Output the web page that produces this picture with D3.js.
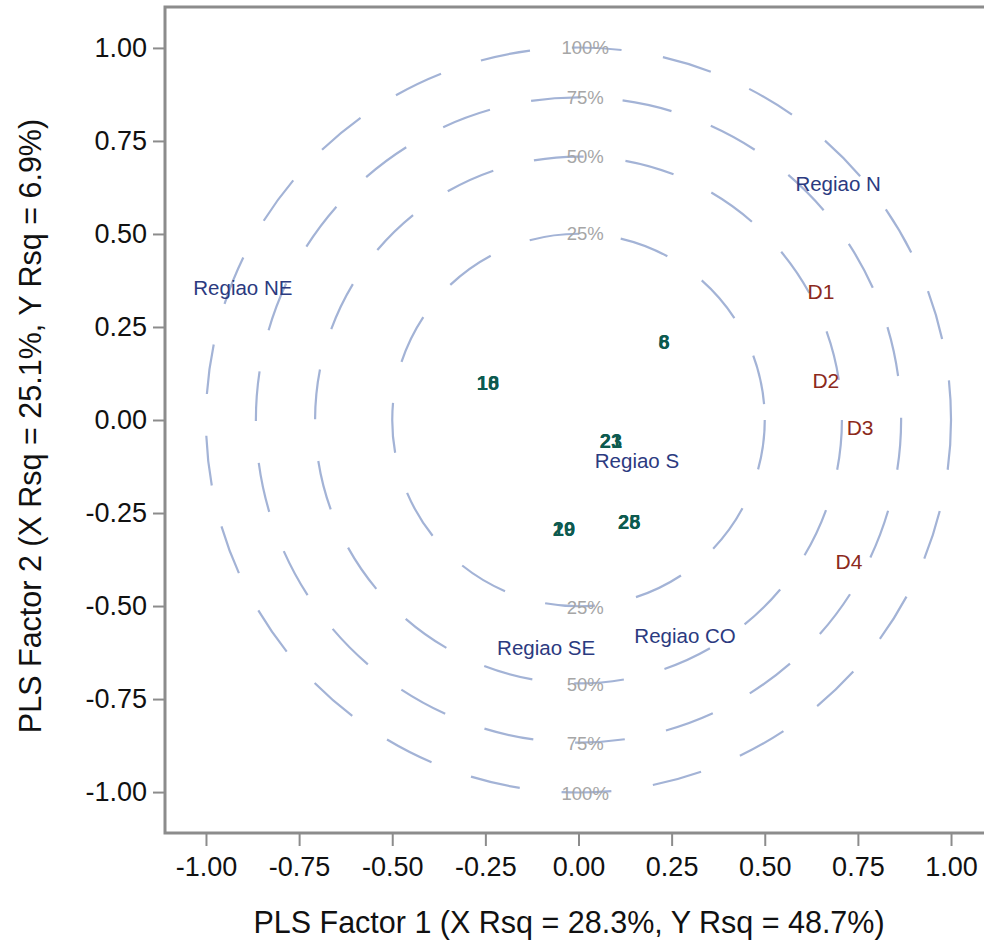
<!DOCTYPE html>
<html>
<head>
<meta charset="utf-8">
<script src="https://cdn.jsdelivr.net/npm/d3@7"></script>
<style>
  html, body { margin: 0; padding: 0; background: #fff; }
  svg { display: block; font-family: "Liberation Sans", Arial, sans-serif; }
</style>
</head>
<body>
<svg id="chart" width="984" height="941"></svg>
<script>
// ---- data ----
const tickValues = [-1.00, -0.75, -0.50, -0.25, 0.00, 0.25, 0.50, 0.75, 1.00];
const xTitle = "PLS Factor 1 (X Rsq = 28.3%, Y Rsq = 48.7%)";
const yTitle = "PLS Factor 2 (X Rsq = 25.1%, Y Rsq = 6.9%)";

// correlation circles (percent of variance explained)
const circlePct = [25, 50, 75, 100];

// observation labels (factor scores)
const obsLabels = ["6", "8", "10", "18", "21", "23", "25", "28", "19", "20"];
const obsX = [0.230, 0.230, -0.243, -0.243, 0.087, 0.087, 0.136, 0.136, -0.039, -0.039];
const obsY = [0.209, 0.209, 0.099, 0.099, -0.056, -0.056, -0.274, -0.274, -0.293, -0.293];

// predictor loadings (X)
const xVarLabels = ["Regiao NE", "Regiao N", "Regiao S", "Regiao SE", "Regiao CO"];
const xVarX = [-0.901, 0.697, 0.157, -0.087, 0.286];
const xVarY = [0.357, 0.636, -0.110, -0.612, -0.580];

// response loadings (Y)
const yVarLabels = ["D1", "D2", "D3", "D4"];
const yVarX = [0.651, 0.664, 0.756, 0.726];
const yVarY = [0.346, 0.105, -0.019, -0.381];

// ---- layout ----
const svg = d3.select("#chart");
const L = 165, T = 7, R = 992, B = 833;
const dom = 1.11;
const x = d3.scaleLinear().domain([-dom, dom]).range([L, R]);
const y = d3.scaleLinear().domain([-dom, dom]).range([B, T]);
const unit = x(1) - x(0);

const gPlot = svg.append("g");

// circles
gPlot.selectAll("circle.ring")
  .data(circlePct)
  .join("circle")
  .attr("class", "ring")
  .attr("cx", x(0))
  .attr("cy", y(0))
  .attr("r", d => unit * Math.sqrt(d / 100))
  .attr("fill", "none")
  .attr("stroke", "#a3b3d6")
  .attr("stroke-width", 2.2)
  .attr("stroke-dasharray", "50,42");

// percent labels top & bottom
const pctLabelX = 0.018;
[1, -1].forEach(s => {
  gPlot.selectAll(null)
    .data(circlePct)
    .join("text")
    .attr("x", x(pctLabelX))
    .attr("y", d => y(s * Math.sqrt(d / 100)) + (s < 0 ? 1 : 0))
    .attr("text-anchor", "middle")
    .attr("dominant-baseline", "central")
    .attr("fill", "#a6a6a6")
    .attr("font-size", 18.5)
    .text(d => d + "%");
});

// observation labels
gPlot.selectAll("text.obs")
  .data(obsLabels)
  .join("text")
  .attr("class", "obs")
  .attr("x", (d, i) => x(obsX[i]))
  .attr("y", (d, i) => y(obsY[i]))
  .attr("text-anchor", "middle")
  .attr("dominant-baseline", "central")
  .attr("fill", "#0d5a4f")
  .attr("font-size", 20)
  .attr("font-weight", "bold")
  .text(d => d);

// X loadings
gPlot.selectAll("text.xv")
  .data(xVarLabels)
  .join("text")
  .attr("class", "xv")
  .attr("x", (d, i) => x(xVarX[i]))
  .attr("y", (d, i) => y(xVarY[i]))
  .attr("text-anchor", "middle")
  .attr("dominant-baseline", "central")
  .attr("fill", "#2b3a80")
  .attr("font-size", 20.5)
  .text(d => d);

// Y loadings
gPlot.selectAll("text.yv")
  .data(yVarLabels)
  .join("text")
  .attr("class", "yv")
  .attr("x", (d, i) => x(yVarX[i]))
  .attr("y", (d, i) => y(yVarY[i]))
  .attr("text-anchor", "middle")
  .attr("dominant-baseline", "central")
  .attr("fill", "#8c2a1c")
  .attr("font-size", 21)
  .text(d => d);

// frame
svg.append("rect")
  .attr("x", L).attr("y", T)
  .attr("width", R - L).attr("height", B - T)
  .attr("fill", "none")
  .attr("stroke", "#8c8c8c")
  .attr("stroke-width", 3);

// axes
const fmt = d => d.toFixed(2);
const xAxis = svg.append("g")
  .attr("transform", `translate(0,${B + 1})`)
  .call(d3.axisBottom(x).tickValues(tickValues).tickFormat(fmt).tickSize(12).tickPadding(11));
const yAxis = svg.append("g")
  .attr("transform", `translate(${L - 1},0)`)
  .call(d3.axisLeft(y).tickValues(tickValues).tickFormat(fmt).tickSize(11).tickPadding(6));
[xAxis, yAxis].forEach(a => {
  a.select(".domain").remove();
  a.selectAll(".tick line").attr("stroke", "#8c8c8c").attr("stroke-width", 2);
  a.selectAll(".tick text").attr("fill", "#111").attr("font-size", 27)
    .attr("font-family", "'Liberation Sans', Arial, sans-serif");
});

// titles
svg.append("text")
  .attr("x", 569).attr("y", 933)
  .attr("text-anchor", "middle")
  .attr("fill", "#111")
  .attr("font-size", 30.5)
  .text(xTitle);
svg.append("text")
  .attr("transform", "translate(41,426) rotate(-90)")
  .attr("text-anchor", "middle")
  .attr("fill", "#111")
  .attr("font-size", 30.5)
  .text(yTitle);
</script>
</body>
</html>
